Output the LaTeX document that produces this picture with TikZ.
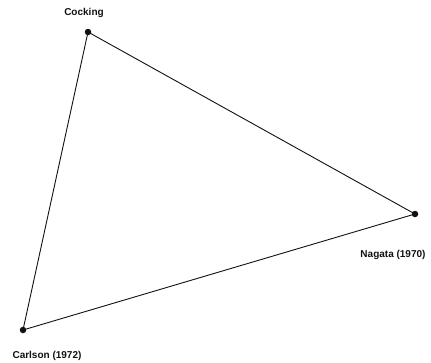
\documentclass[tikz,border=0pt]{standalone}
\usepackage{fontspec}
\setmainfont{Liberation Sans}
\usepackage{xcolor}
\usetikzlibrary{positioning}
\definecolor{inkblack}{HTML}{111111}

\begin{document}
\begin{tikzpicture}[
  x=1pt, y=-1pt,
  vertex/.style={circle, fill=inkblack, inner sep=0pt, minimum size=6.5pt},
  tag/.style={font=\bfseries\fontsize{10}{12}\selectfont, text=inkblack, inner sep=1pt},
  edge/.style={draw=inkblack, line width=0.9pt},
]
  \useasboundingbox (0,0) rectangle (431,362);
  \node[vertex] (cocking) at (88,32) {};
  \node[vertex] (nagata) at (415,214) {};
  \node[vertex] (carlson) at (23,330) {};

  \node[tag] (lcocking) at (84,13) {Cocking};
  \node[tag] (lnagata) at (393,255) {Nagata (1970)};
  \node[tag] (lcarlson) at (47,356) {Carlson (1972)};

  \draw[edge] (cocking.center) -- (nagata.center) -- (carlson.center) -- cycle;
\end{tikzpicture}
\end{document}
